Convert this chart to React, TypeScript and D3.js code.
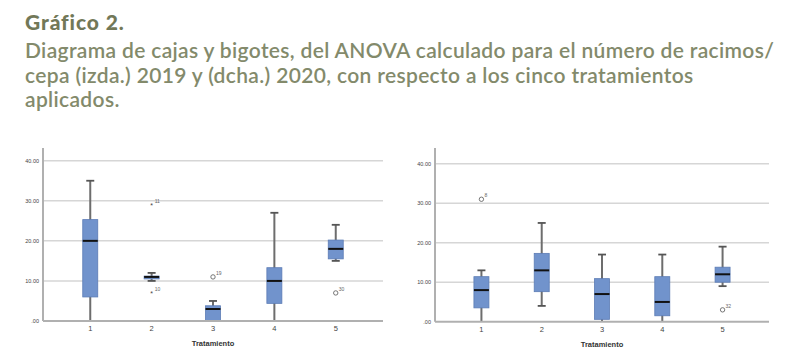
import { useEffect, useRef } from 'react';
import * as d3 from 'd3';

const titleBold = 'Gráfico 2.';
const titleLines = [
    'Diagrama de cajas y bigotes, del ANOVA calculado para el número de racimos/',
    'cepa (izda.) 2019 y (dcha.) 2020, con respecto a los cinco tratamientos',
    'aplicados.',
];

const categories = ['1', '2', '3', '4', '5'];
const yTicks = [0, 10, 20, 30, 40];
const xLabel = 'Tratamiento';

// 2019 (left)
const low2019 = [0, 10, 0, 0, 15];
const q1_2019 = [6, 10.5, 0, 4.4, 15.5];
const med2019 = [20, 11, 3, 10, 18];
const q3_2019 = [25.3, 11.2, 3.8, 13.3, 20.2];
const high2019 = [35, 12, 5, 27, 24];
const out2019 = [
    { cat: '2', value: 29, label: '11', kind: 'star' },
    { cat: '2', value: 7, label: '10', kind: 'star' },
    { cat: '3', value: 11, label: '19', kind: 'circle' },
    { cat: '5', value: 7, label: '30', kind: 'circle' },
];

// 2020 (right)
const low2020 = [0, 4, 0, 0, 9];
const q1_2020 = [3.5, 7.6, 0.6, 1.5, 10];
const med2020 = [8, 13, 7, 5, 12];
const q3_2020 = [11.4, 17.3, 10.9, 11.4, 13.8];
const high2020 = [13, 25, 17, 17, 19];
const out2020 = [
    { cat: '1', value: 31, label: '8', kind: 'circle' },
    { cat: '5', value: 3, label: '32', kind: 'circle' },
];

type Outlier = { cat: string; value: number; label: string; kind: string };

function drawBox(
    svg: d3.Selection<SVGSVGElement, unknown, null, undefined>,
    frame: { left: number; right: number; top: number; y0: number; y40: number },
    low: number[], q1: number[], med: number[], q3: number[], high: number[],
    outliers: Outlier[],
) {
    const g = svg.append('g');
    const x = d3.scalePoint<string>().domain(categories).range([frame.left, frame.right]).padding(0.77);
    const y = d3.scaleLinear().domain([0, 40]).range([frame.y0, frame.y40]);
    const boxW = 15;

    // Gridlines
    g.selectAll('.grid')
        .data(yTicks.filter(t => t > 0))
        .join('line')
        .attr('x1', frame.left).attr('x2', frame.right)
        .attr('y1', d => y(d)).attr('y2', d => y(d))
        .attr('stroke', '#d6d6d6').attr('stroke-width', 1.5);

    // Y tick labels
    g.selectAll('.ylbl')
        .data(yTicks)
        .join('text')
        .attr('x', frame.left - 4).attr('y', d => y(d) + 2)
        .attr('text-anchor', 'end').attr('font-size', 5.5).attr('fill', '#444')
        .attr('font-family', 'Liberation Sans, Arial, sans-serif')
        .text(d => (d === 0 ? '.00' : d.toFixed(2)));

    const rows = categories.map((c, i) => ({ c, low: low[i], q1: q1[i], med: med[i], q3: q3[i], high: high[i] }));

    // Whiskers
    g.selectAll('.whisk')
        .data(rows)
        .join('line')
        .attr('x1', d => x(d.c)!).attr('x2', d => x(d.c)!)
        .attr('y1', d => y(d.low)).attr('y2', d => y(d.high))
        .attr('stroke', '#6d6d6d').attr('stroke-width', 2);
    g.selectAll('.capH')
        .data(rows.filter(d => d.high > d.q3))
        .join('line')
        .attr('x1', d => x(d.c)! - 4).attr('x2', d => x(d.c)! + 4)
        .attr('y1', d => y(d.high)).attr('y2', d => y(d.high))
        .attr('stroke', '#555').attr('stroke-width', 1.8);
    g.selectAll('.capL')
        .data(rows.filter(d => d.low < d.q1 && d.low > 0))
        .join('line')
        .attr('x1', d => x(d.c)! - 4).attr('x2', d => x(d.c)! + 4)
        .attr('y1', d => y(d.low)).attr('y2', d => y(d.low))
        .attr('stroke', '#555').attr('stroke-width', 1.8);

    // Boxes
    g.selectAll('.box')
        .data(rows)
        .join('rect')
        .attr('x', d => x(d.c)! - boxW / 2).attr('width', boxW)
        .attr('y', d => y(d.q3)).attr('height', d => y(d.q1) - y(d.q3))
        .attr('fill', '#7193cc').attr('stroke', '#5c7cb5').attr('stroke-width', 0.8);

    // Medians
    g.selectAll('.med')
        .data(rows)
        .join('line')
        .attr('x1', d => x(d.c)! - boxW / 2).attr('x2', d => x(d.c)! + boxW / 2)
        .attr('y1', d => y(d.med)).attr('y2', d => y(d.med))
        .attr('stroke', '#111').attr('stroke-width', 2);

    // Outliers
    outliers.forEach(o => {
        const cx = x(o.cat)!;
        const cy = y(o.value);
        if (o.kind === 'circle') {
            g.append('circle').attr('cx', cx).attr('cy', cy).attr('r', 2.2)
                .attr('fill', 'none').attr('stroke', '#666').attr('stroke-width', 0.9);
        } else {
            g.append('text').attr('x', cx).attr('y', cy + 3).attr('text-anchor', 'middle')
                .attr('font-size', 7).attr('fill', '#444').attr('font-family', 'Liberation Sans, Arial, sans-serif')
                .text('*');
        }
        g.append('text').attr('x', cx + 3).attr('y', cy - 2)
            .attr('font-size', 5).attr('fill', '#666').attr('font-family', 'Liberation Sans, Arial, sans-serif')
            .text(o.label);
    });

    // Axes lines
    g.append('line').attr('x1', frame.left).attr('x2', frame.left).attr('y1', frame.top).attr('y2', frame.y0)
        .attr('stroke', '#b0b0b0').attr('stroke-width', 2);
    g.append('line').attr('x1', frame.left).attr('x2', frame.right).attr('y1', frame.y0).attr('y2', frame.y0)
        .attr('stroke', '#b0b0b0').attr('stroke-width', 2);

    // X tick labels
    g.selectAll('.xlbl')
        .data(categories)
        .join('text')
        .attr('x', d => x(d)!).attr('y', frame.y0 + 10)
        .attr('text-anchor', 'middle').attr('font-size', 7.5).attr('fill', '#444')
        .attr('font-family', 'Liberation Sans, Arial, sans-serif')
        .text(d => d);

    g.append('text')
        .attr('x', (frame.left + frame.right) / 2).attr('y', frame.y0 + 25)
        .attr('text-anchor', 'middle').attr('font-size', 7.5).attr('font-weight', 'bold').attr('fill', '#333')
        .attr('font-family', 'Liberation Sans, Arial, sans-serif')
        .text(xLabel);
}

export default function App() {
    const svgRef = useRef<SVGSVGElement>(null);

    useEffect(() => {
        if (!svgRef.current) return;
        const svg = d3.select(svgRef.current);
        svg.selectAll('*').remove();

        svg.append('rect').attr('width', 801).attr('height', 363).attr('fill', '#fff');

        // Title
        svg.append('text')
            .attr('x', 25).attr('y', 30)
            .attr('font-family', 'Lato, "Noto Sans", sans-serif').attr('font-size', 21)
            .attr('font-weight', 900).attr('letter-spacing', 0.9).attr('fill', '#727858')
            .text(titleBold);
        svg.selectAll('.tline')
            .data(titleLines)
            .join('text')
            .attr('x', 25).attr('y', (_, i) => 58 + i * 24.5)
            .attr('font-family', 'Lato, "Noto Sans", sans-serif').attr('font-size', 21)
            .attr('font-weight', 600).attr('letter-spacing', 0.34).attr('fill', '#838a6b')
            .text(d => d);

        drawBox(svg, { left: 43, right: 383, top: 148, y0: 321, y40: 160.7 },
            low2019, q1_2019, med2019, q3_2019, high2019, out2019);
        drawBox(svg, { left: 435, right: 769, top: 148, y0: 321.7, y40: 163.7 },
            low2020, q1_2020, med2020, q3_2020, high2020, out2020);
    }, []);

    return <svg ref={svgRef} width={801} height={363} style={{ position: 'absolute', left: 0, top: 0 }} />;
}
